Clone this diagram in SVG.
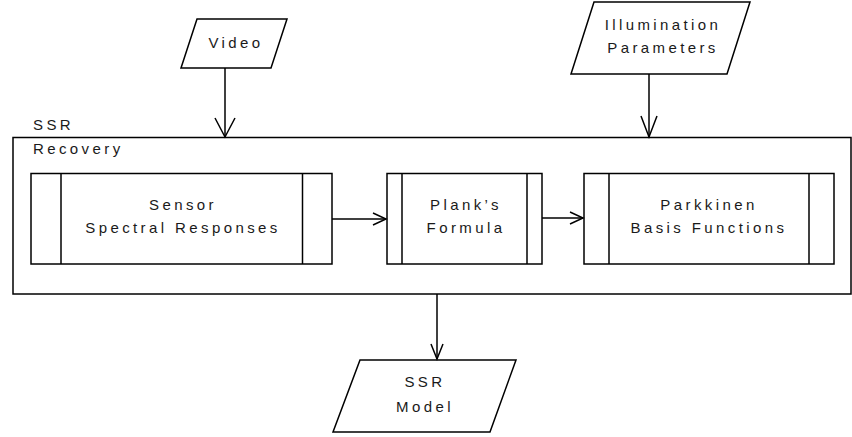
<svg xmlns="http://www.w3.org/2000/svg" width="852" height="437" viewBox="0 0 852 437">
  <style>
    .shape { fill: #ffffff; stroke: #000000; stroke-width: 1.5; }
    .line { fill: none; stroke: #000000; stroke-width: 1.5; }
    .label { font-family: "Liberation Sans", Arial, sans-serif; font-size: 15px; letter-spacing: 3.4px; fill: #1a1a1a; text-anchor: middle; }
    .title { font-family: "Liberation Sans", Arial, sans-serif; font-size: 15px; letter-spacing: 3.4px; fill: #1a1a1a; }
  </style>
  <rect width="852" height="437" fill="#ffffff"/>

  <!-- SSR Recovery container -->
  <g id="ssr-recovery">
    <rect class="shape" x="13" y="137.5" width="838" height="156.5"/>
    <text class="title" x="33" y="130">SSR</text>
    <text class="title" x="33" y="154">Recovery</text>
  </g>

  <!-- inputs -->
  <g id="video">
    <polygon class="shape" points="197,19 287,19 271,68 181,68"/>
    <text class="label" x="236" y="48">Video</text>
  </g>
  <g id="illumination-parameters">
    <polygon class="shape" points="594,2 750,2 727,74 571,74"/>
    <text class="label" x="663" y="30">Illumination</text>
    <text class="label" x="663" y="53">Parameters</text>
  </g>

  <!-- processes -->
  <g id="sensor-spectral-responses">
    <rect class="shape" x="31" y="173.5" width="301" height="90.5"/>
    <line class="line" x1="61" y1="173.5" x2="61" y2="264"/>
    <line class="line" x1="302.5" y1="173.5" x2="302.5" y2="264"/>
    <text class="label" x="183" y="210">Sensor</text>
    <text class="label" x="183" y="233">Spectral Responses</text>
  </g>
  <g id="planks-formula">
    <rect class="shape" x="387" y="173.5" width="155" height="90.5"/>
    <line class="line" x1="402" y1="173.5" x2="402" y2="264"/>
    <line class="line" x1="527" y1="173.5" x2="527" y2="264"/>
    <text class="label" x="466" y="210">Plank’s</text>
    <text class="label" x="466" y="233">Formula</text>
  </g>
  <g id="parkkinen-basis-functions">
    <rect class="shape" x="584" y="173.5" width="250" height="90.5"/>
    <line class="line" x1="609" y1="173.5" x2="609" y2="264"/>
    <line class="line" x1="809" y1="173.5" x2="809" y2="264"/>
    <text class="label" x="709" y="210">Parkkinen</text>
    <text class="label" x="709" y="233">Basis Functions</text>
  </g>

  <!-- output -->
  <g id="ssr-model">
    <polygon class="shape" points="360,360 516,360 490,432 333,432"/>
    <text class="label" x="425" y="387">SSR</text>
    <text class="label" x="425" y="412">Model</text>
  </g>

  <!-- connectors -->
  <g id="connectors">
    <line class="line" x1="225" y1="68" x2="225" y2="137"/>
    <polyline class="line" points="215,118 225,137 235,118"/>
    <line class="line" x1="649" y1="74" x2="649" y2="137"/>
    <polyline class="line" points="641,116 649,137 657,116"/>
    <line class="line" x1="332" y1="219" x2="386" y2="219"/>
    <polyline class="line" points="373,213 386,219 373,225"/>
    <line class="line" x1="542" y1="218" x2="583" y2="218"/>
    <polyline class="line" points="570,212 583,218 570,224"/>
    <line class="line" x1="437" y1="294" x2="437" y2="359"/>
    <polyline class="line" points="431,344 437,359 443,344"/>
  </g>
</svg>
